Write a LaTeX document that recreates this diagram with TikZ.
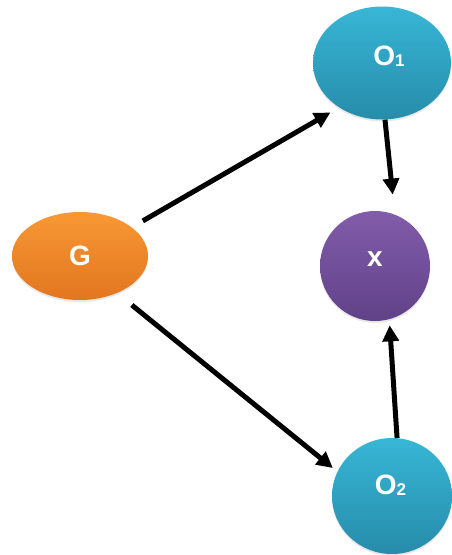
\documentclass[tikz,border=0pt]{standalone}
\usepackage{fontspec}
\setmainfont{Liberation Sans}
\usetikzlibrary{shapes.geometric,arrows.meta,shadows}
\definecolor{tealT}{RGB}{56,182,214}
\definecolor{tealB}{RGB}{38,140,170}
\definecolor{orT}{RGB}{248,152,52}
\definecolor{orB}{RGB}{226,118,32}
\definecolor{puT}{RGB}{130,92,170}
\definecolor{puB}{RGB}{96,66,136}
\newcommand\mysub[1]{\raisebox{-1pt}{\fontsize{17}{17}\selectfont #1}}
\begin{document}
\begin{tikzpicture}[x=1pt,y=-1pt,
  bub/.style={ellipse, inner sep=0pt, draw=none,
    drop shadow={opacity=0.18, shadow xshift=0pt, shadow yshift=-2pt}},
  lab/.style={text=white, inner sep=0pt, font=\bfseries\fontsize{28}{28}\selectfont},
  arr/.style={line width=5pt, -{Triangle[length=16pt,width=16pt]}}]
\useasboundingbox (0,0) rectangle (451,555);
\node[bub, minimum width=138pt, minimum height=113pt, top color=tealT, bottom color=tealB,
  label={[lab, shift={(7pt,7pt)}]center:O\mysub{1}}] (O1) at (382,63) {};
\node[bub, minimum width=120pt, minimum height=116pt, top color=tealT, bottom color=tealB,
  label={[lab, shift={(-1.5pt,11pt)}]center:O\mysub{2}}] (O2) at (392,496) {};
\node[bub, minimum width=136pt, minimum height=88pt, top color=orT, bottom color=orB,
  label={[lab]center:G}] (G) at (80,256) {};
\node[bub, minimum width=110pt, minimum height=110pt, top color=puT, bottom color=puB,
  label={[lab, shift={(0pt,6.5pt)}]center:x}] (x) at (375,266) {};
\draw[arr, shorten <=12.7pt, shorten >=10pt] (G.29.5) -- (O1.226);
\draw[arr, shorten <=19pt, shorten >=5.8pt] (G.-45) -- (O2.156);
\draw[arr, shorten >=20pt] (O1.-87) -- (x.69);
\draw[arr, shorten >=6pt] (O2.85) -- (x.-75);
\end{tikzpicture}
\end{document}
